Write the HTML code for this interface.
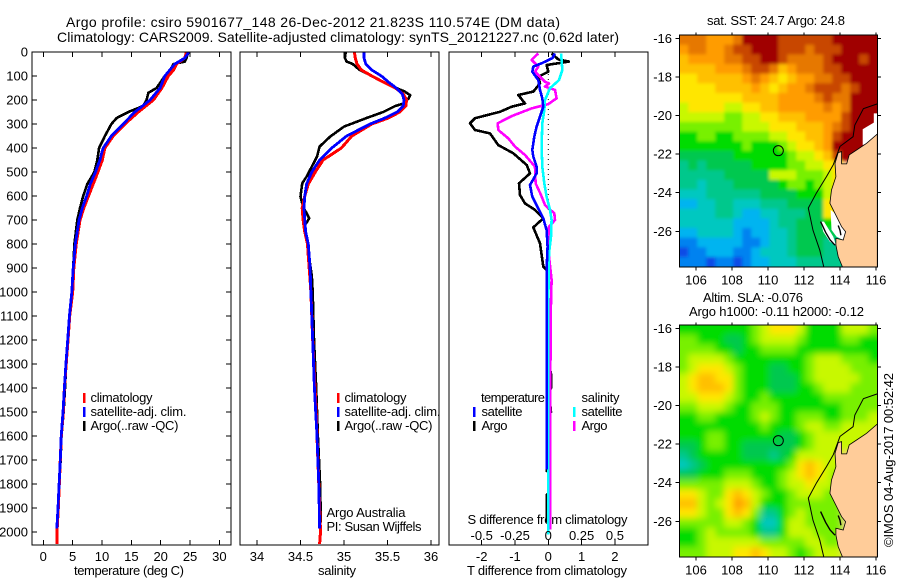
<!DOCTYPE html>
<html>
<head>
<meta charset="utf-8">
<title>Argo profile</title>
<style>
html,body{margin:0;padding:0;background:#fff;}
svg{display:block;}
text{font-family:"Liberation Sans",sans-serif;font-size:13px;fill:#000;}
text.big{font-size:14px;}
</style>
</head>
<body>
<svg id="chart" xmlns="http://www.w3.org/2000/svg" width="900" height="580" viewBox="0 0 900 580">
<rect x="0" y="0" width="900" height="580" fill="#fff"/>
<defs>
<clipPath id="clip-t"><rect x="32" y="52" width="199" height="493"/></clipPath>
<clipPath id="clip-s"><rect x="240" y="52" width="199" height="493"/></clipPath>
<clipPath id="clip-d"><rect x="449" y="52" width="199" height="493"/></clipPath>
<clipPath id="clip-m1"><rect x="679.5" y="35" width="198" height="232"/></clipPath>
<clipPath id="clip-m2"><rect x="679.5" y="325" width="198" height="232"/></clipPath>
<filter id="blur-sst" filterUnits="userSpaceOnUse" x="640" y="0" width="260" height="580"><feGaussianBlur stdDeviation="1.7"/></filter>
<filter id="blur-sla" filterUnits="userSpaceOnUse" x="640" y="0" width="260" height="580"><feGaussianBlur stdDeviation="3.4"/></filter>
</defs>

<text class="big" x="66" y="27" textLength="494" lengthAdjust="spacing">Argo profile: csiro 5901677_148 26-Dec-2012 21.823S 110.574E (DM data)</text>
<text class="big" x="57" y="42" textLength="562" lengthAdjust="spacing">Climatology: CARS2009. Satellite-adjusted climatology: synTS_20121227.nc (0.62d later)</text>

<text x="74" y="575" textLength="110" lengthAdjust="spacing">temperature (deg C)</text>
<text x="318" y="575" textLength="38" lengthAdjust="spacing">salinity</text>
<text x="467" y="575" textLength="160" lengthAdjust="spacing">T difference from climatology</text>
<text x="467.5" y="524" textLength="160" lengthAdjust="spacing">S difference from climatology</text>

<text x="326.5" y="517" textLength="79" lengthAdjust="spacing">Argo Australia</text>
<text x="326.5" y="531" textLength="95" lengthAdjust="spacing">PI: Susan Wijffels</text>

<g>
<rect x="83" y="393" width="2.5" height="10" fill="#f00"/>
<rect x="83" y="407" width="2.5" height="10" fill="#00f"/>
<rect x="83" y="421" width="2.5" height="10" fill="#000"/>
<text x="90.5" y="402" textLength="62" lengthAdjust="spacing">climatology</text>
<text x="90.5" y="416" textLength="96" lengthAdjust="spacing">satellite-adj. clim.</text>
<text x="90.5" y="430" textLength="88" lengthAdjust="spacing">Argo(..raw -QC)</text>
</g>
<g>
<rect x="337" y="393" width="2.5" height="10" fill="#f00"/>
<rect x="337" y="407" width="2.5" height="10" fill="#00f"/>
<rect x="337" y="421" width="2.5" height="10" fill="#000"/>
<text x="344.5" y="402" textLength="62" lengthAdjust="spacing">climatology</text>
<text x="344.5" y="416" textLength="96" lengthAdjust="spacing">satellite-adj. clim.</text>
<text x="344.5" y="430" textLength="88" lengthAdjust="spacing">Argo(..raw -QC)</text>
</g>
<g>
<text x="481" y="402" textLength="64" lengthAdjust="spacing">temperature</text>
<rect x="473" y="407" width="2.5" height="10" fill="#00f"/>
<rect x="473" y="421" width="2.5" height="10" fill="#000"/>
<text x="481.5" y="416" textLength="41" lengthAdjust="spacing">satellite</text>
<text x="481.5" y="430" textLength="26" lengthAdjust="spacing">Argo</text>
<text x="581.5" y="402" textLength="38" lengthAdjust="spacing">salinity</text>
<rect x="573" y="407" width="2.5" height="10" fill="#0ff"/>
<rect x="573" y="421" width="2.5" height="10" fill="#f0f"/>
<text x="581.5" y="416" textLength="41" lengthAdjust="spacing">satellite</text>
<text x="581.5" y="430" textLength="26" lengthAdjust="spacing">Argo</text>
</g>

<text x="707" y="25" textLength="138" lengthAdjust="spacing">sat. SST: 24.7 Argo: 24.8</text>
<text x="703" y="302" textLength="100" lengthAdjust="spacing">Altim. SLA: -0.076</text>
<text x="689" y="316" textLength="175" lengthAdjust="spacing">Argo h1000: -0.11 h2000: -0.12</text>
<text transform="translate(893,547) rotate(-90)" x="0" y="0" textLength="174" lengthAdjust="spacing">©IMOS 04-Aug-2017 00:52:42</text>
</svg>

<script>
// ---------- tick labels ----------
const depthTicks = [0,100,200,300,400,500,600,700,800,900,1000,1100,1200,1300,1400,1500,1600,1700,1800,1900,2000];
const tempTicks = [0,5,10,15,20,25,30];
const salTicks = [34,34.5,35,35.5,36];
const salTickLabels = ['34','34.5','35','35.5','36'];
const dTempTicks = [-2,-1,0,1,2];
const dTempLabels = ['-2','-1','0','1','2'];
const dSalTicks = [-0.5,-0.25,0,0.25,0.5];
const dSalLabels = ['-0.5','-0.25','0','0.25','0.5'];
const lonTicks = [106,108,110,112,114,116];
const latTicks = [-16,-18,-20,-22,-24,-26];

// ---------- temperature profiles ----------
const tempClimDepth = [0,25,50,75,100,150,200,250,300,350,400,450,500,550,600,650,700,800,900,1000,1100,1200,1300,1400,1500,1600,1700,1800,1900,2000,2050];
const tempClim = [24.4,24.1,22.7,22.2,21.3,20.2,18.75,16.2,13.9,11.9,10.5,10.05,9.3,8.5,7.7,6.9,6.25,5.6,5.2,5.0,4.5,4.2,3.9,3.6,3.4,3.07,2.9,2.73,2.55,2.33,2.35];
const tempSatDepth = [0,25,50,100,150,200,250,300,350,400,420,450,500,550,600,650,700,800,900,1000,1100,1200,1300,1400,1500,1600,1700,1800,1900,1985];
const tempSat = [24.8,24.1,22.4,20.7,19.9,18.2,15.6,13.6,11.6,10.2,9.95,9.65,8.9,8,7.4,6.65,6.1,5.45,5.1,4.85,4.45,4.15,3.85,3.6,3.35,3.05,2.9,2.7,2.5,2.3];
const tempArgoDepth = [0,25,40,50,75,100,150,170,200,225,250,275,300,350,400,450,500,550,600,650,700,800,900,1000,1100,1200,1300,1400,1500,1600,1700,1800,1900,1980];
const tempArgo = [24.7,24.4,24.1,22.2,21.6,20.7,19.3,17.9,17.6,17,14.5,12.5,11.6,10.5,9.5,9.2,8.7,7.5,6.8,6.25,5.8,5.3,5.1,4.85,4.5,4.2,3.9,3.7,3.45,3.1,2.95,2.75,2.5,2.3];

// ---------- salinity profiles ----------
const salClimDepth = [0,25,50,75,100,125,150,175,200,225,250,275,300,350,400,450,500,550,600,650,700,750,800,850,900,950,1000,1200,1400,1500,1600,1800,2000,2050];
const salClim = [35.12,35.13,35.15,35.2,35.32,35.45,35.59,35.68,35.72,35.71,35.64,35.51,35.32,35.09,34.97,34.76,34.67,34.59,34.55,34.52,34.53,34.55,34.58,34.59,34.6,34.61,34.62,34.64,34.667,34.68,34.69,34.71,34.73,34.72];
const salSatDepth = [0,25,50,75,100,125,150,175,200,225,250,275,300,350,400,450,500,550,600,650,700,750,800,850,900,950,1000,1200,1400,1500,1600,1800,1985];
const salSat = [35.23,35.23,35.25,35.32,35.43,35.51,35.6,35.67,35.69,35.68,35.61,35.47,35.3,35.03,34.86,34.72,34.63,34.57,34.55,34.54,34.55,34.56,34.59,34.6,34.61,34.615,34.62,34.64,34.66,34.675,34.69,34.71,34.72];
const salArgoDepth = [0,25,40,50,75,100,125,150,165,180,195,215,225,250,275,311,353,394,436,478,519,547,603,644,672,693,728,783,933,1000,1200,1400,1600,1800,1960];
const salArgo = [35.02,35.01,35.03,35.1,35.18,35.32,35.45,35.6,35.7,35.76,35.74,35.68,35.59,35.45,35.26,35,34.84,34.72,34.69,34.63,34.57,34.52,34.5,34.53,34.57,34.6,34.54,34.57,34.63,34.64,34.655,34.68,34.7,34.725,34.735];

// ---------- difference profiles ----------
const dTempSatDepth = [6,26,47,61,82,117,158,193,228,269,311,353,408,436,478,506,554,603,638,693,742,811,908,1033,1740];
const dTempSat = [0.2,0.12,-0.2,-0.45,-0.48,-0.3,-0.25,-0.18,-0.15,-0.25,-0.35,-0.42,-0.48,-0.45,-0.35,-0.35,-0.55,-0.48,-0.35,-0.15,-0.05,-0.02,-0.05,-0.05,-0.05];
const dTempArgoDepth = [6,31,40,54,82,103,131,165,179,214,228,249,276,297,325,339,388,422,471,506,547,596,631,658,693,731,797,894,908,1033,1320,1340,1400,1420,1500,1520,1745,1750,1840,1845,1960];
const dTempArgo = [0.1,0.3,0.62,-0.05,0,-0.3,-0.25,-0.45,-0.9,-0.7,-1.1,-1.45,-2.2,-2.35,-2.2,-1.75,-1.5,-1.05,-0.65,-0.55,-0.88,-0.85,-0.7,-0.4,-0.15,-0.45,-0.25,-0.15,-0.05,-0.05,0.05,0.08,0.08,0.02,0.08,-0.05,-0.05,0,0,-0.05,-0.05];
const dSalSatDepth = [6,33,75,117,151,200,242,297,394,478,547,603,658,700,769,839,1033,2010];
const dSalSat = [0.095,0.1,0.105,0.08,0.0125,-0.025,-0.03,-0.045,-0.05,-0.045,-0.03,-0.0125,0.0125,0.025,0.02,0.005,0,0];
const dSalArgoDepth = [6,33,61,82,103,124,131,144,158,193,217,235,267,297,325,360,394,429,478,547,596,638,672,700,728,825,950,1033,1500,1990];
const dSalArgo = [-0.075,-0.125,-0.075,-0.1,-0.0625,-0.025,0.005,-0.025,0.05,0.0625,0,-0.125,-0.275,-0.38,-0.375,-0.3,-0.25,-0.175,-0.1,-0.095,-0.055,-0.025,0.045,0.05,0.005,0,0.025,0.02,0.0125,0.0125];

// ---------- map data (colour-class per half-degree cell, top row first) ----------
const sstGrid = [
[12,12,12,11,11,11,12,14,14,14,14,13,13,13,13,13,13,14,14,14,14,14],
[11,12,12,11,11,12,13,13,14,14,14,13,13,13,12,13,13,13,14,14,14,14],
[10,11,11,11,11,12,12,13,13,14,14,13,12,12,12,12,13,14,14,14,13,14],
[10,10,10,10,11,11,11,12,13,13,12,10,11,12,12,12,13,13,14,14,14,14],
[9,9,10,10,10,10,10,11,12,11,10,9,10,11,11,12,12,13,13,14,14,14],
[9,9,9,9,10,10,10,10,11,10,9,10,11,11,12,13,13,13,12,13,14,14],
[9,9,9,9,9,9,9,10,10,10,10,11,11,11,11,12,13,12,12,14,14,14],
[8,9,9,9,9,8,8,9,9,10,10,11,11,11,11,11,12,11,12,14,14,14],
[8,8,8,8,8,7,7,8,8,9,9,10,10,10,11,11,11,11,13,14,14,14],
[7,7,7,7,7,7,7,8,8,8,9,9,9,10,10,10,11,12,13,14,14,14],
[6,6,7,7,6,6,7,7,7,7,8,8,9,9,10,10,11,13,14,14,14,14],
[6,6,6,6,6,6,6,7,6,6,6,7,8,9,9,10,11,14,14,14,14,14],
[5,5,5,5,5,5,6,6,6,6,6,6,7,8,8,9,10,13,14,14,14,14],
[4,5,4,5,5,5,5,5,6,6,6,6,7,7,8,8,9,9],
[4,4,4,4,4,5,5,5,5,5,8,8,8,7,7,7,8,9],
[4,4,3,4,4,4,5,5,5,5,5,6,7,7,6,7,8,9],
[3,3,3,4,4,4,4,4,4,5,5,5,5,6,6,6,8,8],
[2,2,3,3,4,4,3,3,3,4,4,4,5,5,5,5,9,9],
[3,3,3,3,4,4,3,2,2,3,3,4,4,4,5,5,9,9],
[3,3,3,3,3,3,2,2,2,2,3,4,4,5,5,5,6,6],
[2,2,3,3,3,3,2,1,2,2,3,3,4,5,5,5,5,5],
[1,1,2,2,2,2,2,1,1,2,3,3,4,5,5,5,4,4],
[0,1,1,2,2,2,1,1,2,3,3,3,4,5,5,5,4,4],
[1,1,1,0,1,1,0,1,2,2,3,3,3,4,4,4,4,4,4]
];
const slaGrid = [
[6,6,6,6,6,6,6,6,7,8,9,9,9,8,6,6,6,6,8,8,8,7],
[7,7,6,6,6,5,5,6,7,8,8,8,8,7,6,6,6,6,7,7,6,6],
[7,7,7,7,6,6,5,6,6,7,7,7,7,6,6,6,6,6,6,6,6,6],
[7,8,8,8,8,7,6,6,6,6,6,6,6,6,7,8,8,8,7,7,7,6],
[7,8,9,9,9,8,7,6,6,6,5,5,6,6,7,8,8,8,8,7,7,7],
[8,9,10,10,9,9,7,6,6,6,5,5,5,6,7,8,8,8,8,8,7,7],
[8,9,10,10,10,9,7,6,6,6,5,5,5,6,6,7,8,8,8,7,7,7],
[8,8,9,9,9,8,7,6,6,7,6,6,6,6,6,6,7,7,7,7,7,7],
[7,7,8,8,8,7,6,6,7,7,7,6,6,6,6,6,6,6,7,7,7,7],
[6,6,7,7,6,6,6,6,7,8,7,6,6,7,7,7,6,6,7,7,7,8],
[6,6,6,6,6,6,6,6,6,7,6,6,6,7,8,8,7,7,8,8,8,8],
[6,6,6,7,7,6,6,6,6,6,6,5,5,6,7,8,8,8,8,8,8,8],
[5,5,6,7,7,6,6,5,5,5,5,5,5,6,7,8,8,8,8,8,8,8],
[4,5,6,6,6,6,6,5,5,5,4,5,6,8,8,8,8,8],
[3,4,5,6,6,6,6,6,6,6,6,6,7,9,10,9,8,8],
[5,5,6,6,6,7,7,7,6,6,6,7,8,9,10,9,8,7],
[7,7,7,7,7,8,8,8,7,6,6,7,8,8,9,8,8,7],
[9,9,8,7,7,9,10,9,8,7,6,6,7,8,8,8,7,7],
[10,10,8,7,8,9,11,10,8,6,6,6,7,7,7,7,7,7],
[9,9,8,7,7,9,10,9,7,4,4,6,7,8,7,7,7,7],
[7,7,7,7,7,8,8,7,6,3,3,6,8,8,7,7,7,7],
[6,6,7,8,7,7,7,7,6,4,4,6,8,8,8,7,7,7],
[6,6,7,8,8,8,8,8,8,7,7,7,7,7,8,8,7,7],
[7,7,7,8,8,8,9,9,10,9,8,8,7,6,7,8,8,8]
];
const colourClasses = ['#0a4be6','#0082f0','#00b4f0','#00c8c0','#00c88c','#00c850','#00dc00','#78f000','#c8f800','#ffe600','#ffc000','#ff9c00','#e67800','#c84600','#a00000'];

// ---------- coastline, isobath and no-data regions (lon, lat) ----------
const landLon = [116.07,115.48,114.92,114.51,114.37,114.09,114.09,113.9,113.72,113.77,113.53,113.44,113.72,114.09,114.31,114.18,113.77,113.77,113.9,114.14,116.07];
const landLat = [-20.96,-21.44,-21.79,-22.04,-22.51,-22.51,-21.87,-21.92,-22.48,-23.17,-23.86,-24.55,-25.07,-25.76,-26.02,-26.45,-26.36,-26.71,-27.31,-27.85,-27.85];
const isoLon = [116.07,115.3,114.82,114.73,114,113.63,113.26,112.7,112.24,112.5,112.88,113.1];
const isoLat = [-19.4,-19.65,-20.5,-21.1,-21.6,-22.55,-23.15,-24,-24.8,-25.95,-26.98,-27.85];
const whiteNELon = [115.88,116.07,116.07,115.48,115.26,115.26,115.88];
const whiteNELat = [-19.89,-19.89,-20.96,-21.47,-21.53,-20.71,-20.37];
const whiteBayLon = [113.48,113.72,114.09,114.31,114.18,113.81,113.53];
const whiteBayLat = [-24.89,-25.07,-25.76,-26.02,-26.45,-26.28,-25.93];
const whitePenLon = [112.92,113.11,113.63,113.77,113.44,113.07];
const whitePenLat = [-25.5,-25.5,-26.28,-26.71,-26.54,-26.02];
const sharkLon = [112.92,113.2,113.45,113.72];
const sharkLat = [-25.5,-26.05,-26.45,-26.72];
const shark2Lon = [113.9,114.0,114.05];
const shark2Lat = [-25.7,-25.95,-26.2];
const floatLon = [110.574];
const floatLat = [-21.823];

// ---------- axis functions ----------
const NS = 'http://www.w3.org/2000/svg';
const svg = document.getElementById('chart');
function yDepth(d){ return 52 + d * 0.24; }
function xTemp(t){ return 43.3 + t * 5.87; }
function xSal(s){ return 257 + (s - 34) * 87; }
function xDT(v){ return 548.3 + v * 33.3; }
function xDS(v){ return 548.3 + v * 133.2; }
function xLon(l){ return 696 + (l - 106) * 18; }
function yLat(lat, top){ return top + (-16 - lat) * 19.3; }

function make(tag, attrs, parent){
  const e = document.createElementNS(NS, tag);
  for (const k in attrs) e.setAttribute(k, attrs[k]);
  (parent || svg).appendChild(e);
  return e;
}
function label(str, x, y, anchor, parent){
  const t = make('text', {x: x, y: y, 'text-anchor': anchor}, parent);
  t.textContent = str;
  return t;
}
function tick(x1, y1, x2, y2, parent){
  return make('line', {x1: x1, y1: y1, x2: x2, y2: y2, stroke: '#000', 'stroke-width': 1, 'shape-rendering': 'crispEdges'}, parent);
}

// ---------- profile panels ----------
function drawBox(x, y, w, h, name){
  const r = make('rect', {x: x, y: y, width: w, height: h, fill: 'none', stroke: '#000', 'stroke-width': 1.3, 'shape-rendering': 'crispEdges'});
  
  
}
function drawLine(depths, vals, xf, colour, width, clip, name){
  const pts = depths.map(function(d, i){ return xf(vals[i]).toFixed(1) + ',' + yDepth(d).toFixed(1); }).join(' ');
  const p = make('polyline', {points: pts, fill: 'none', stroke: colour, 'stroke-width': width, 'stroke-linejoin': 'round', 'shape-rendering': 'crispEdges', 'clip-path': 'url(#' + clip + ')'});
  
  
}

drawLine(tempArgoDepth, tempArgo, xTemp, '#000', 2.6, 'clip-t', 'temperature-argo-line');
drawLine(tempClimDepth, tempClim, xTemp, '#f00', 3, 'clip-t', 'temperature-climatology-line');
drawLine(tempSatDepth, tempSat, xTemp, '#00f', 2.8, 'clip-t', 'temperature-satellite-line');

drawLine(salArgoDepth, salArgo, xSal, '#000', 2.6, 'clip-s', 'salinity-argo-line');
drawLine(salClimDepth, salClim, xSal, '#f00', 3, 'clip-s', 'salinity-climatology-line');
drawLine(salSatDepth, salSat, xSal, '#00f', 2.8, 'clip-s', 'salinity-satellite-line');

const zeroLine = make('line', {x1: xDT(0), y1: yDepth(50), x2: xDT(0), y2: yDepth(670), stroke: '#000', 'stroke-width': 1, 'stroke-dasharray': '1 4'});


drawLine(dTempArgoDepth, dTempArgo, xDT, '#000', 2.6, 'clip-d', 't-difference-argo-line');
drawLine(dSalArgoDepth, dSalArgo, xDS, '#f0f', 2.6, 'clip-d', 's-difference-argo-line');
drawLine(dSalSatDepth, dSalSat, xDS, '#0ff', 2.6, 'clip-d', 's-difference-satellite-line');
drawLine(dTempSatDepth, dTempSat, xDT, '#00f', 2.6, 'clip-d', 't-difference-satellite-line');

drawBox(32, 52, 199, 493, 'temperature-plot-frame');
drawBox(240, 52, 199, 493, 'salinity-plot-frame');
drawBox(449, 52, 199, 493, 'difference-plot-frame');

// depth axis
const depthAxis = make('g', {});


depthTicks.forEach(function(d){
  tick(32, yDepth(d), 37, yDepth(d), depthAxis);
  tick(226, yDepth(d), 231, yDepth(d), depthAxis);
  label(String(d), 28, yDepth(d) + 4.5, 'end', depthAxis);
});

// temperature axis
const tempAxis = make('g', {});


tempTicks.forEach(function(t){
  tick(xTemp(t), 52, xTemp(t), 57, tempAxis);
  tick(xTemp(t), 540, xTemp(t), 545, tempAxis);
  label(String(t), xTemp(t), 561, 'middle', tempAxis);
});

// salinity axis
const salAxis = make('g', {});


salTicks.forEach(function(s, i){
  tick(xSal(s), 52, xSal(s), 57, salAxis);
  tick(xSal(s), 540, xSal(s), 545, salAxis);
  label(salTickLabels[i], xSal(s), 561, 'middle', salAxis);
});

// difference axes
const diffAxis = make('g', {});


dTempTicks.forEach(function(v, i){
  tick(xDT(v), 52, xDT(v), 57, diffAxis);
  tick(xDT(v), 540, xDT(v), 545, diffAxis);
  label(dTempLabels[i], xDT(v), 561, 'middle', diffAxis);
});
const diffSAxis = make('g', {});


dSalTicks.forEach(function(v, i){
  label(dSalLabels[i], xDS(v), 540, 'middle', diffSAxis);
});

// ---------- maps ----------
function poly(lons, lats, top, attrs, parent, tag){
  const pts = lons.map(function(l, i){ return xLon(l).toFixed(1) + ',' + yLat(lats[i], top).toFixed(1); }).join(' ');
  attrs.points = pts;
  return make(tag || 'polygon', attrs, parent);
}

function drawMap(top, grid, blurId, clipId, prefix, showWhite){
  const bg = make('rect', {x: 679.5, y: top - 3.3, width: 198, height: 232, fill: '#ffcc99'});
  
  

  const clipGroup = make('g', {'clip-path': 'url(#' + clipId + ')'});
  
  

  const cellGroup = make('g', {filter: 'url(#' + blurId + ')'}, clipGroup);
  
  

  const cellW = xLon(105.57) - xLon(105.07);
  const cellH = yLat(-16.33, top) - yLat(-15.83, top);
  grid.forEach(function(row, j){
    row.forEach(function(v, i){
      let x = xLon(105.07 + i * 0.5);
      let y = yLat(-15.83 - j * 0.5, top);
      let w = cellW + 0.4;
      let h = cellH + 0.4;
      if (i === 0) { x -= 12; w += 12; }
      if (j === 0) { y -= 12; h += 12; }
      if (j === grid.length - 1) { h += 12; }
      if (i === 21) { w += 12; }
      const c = make('rect', {x: x, y: y, width: w, height: h, fill: colourClasses[v]}, cellGroup);
      
      
    });
  });

  if (showWhite) {
    const w1 = poly(whiteNELon, whiteNELat, top, {fill: '#fff'}, clipGroup);
    
    
    const w2 = poly(whiteBayLon, whiteBayLat, top, {fill: '#fff'}, clipGroup);
    
    
    const w3 = poly(whitePenLon, whitePenLat, top, {fill: '#fff'}, clipGroup);
    
    
  }

  const land = poly(landLon, landLat, top, {fill: '#ffcc99', stroke: '#000', 'stroke-width': 0.8}, clipGroup);
  
  

  const iso = poly(isoLon, isoLat, top, {fill: 'none', stroke: '#000', 'stroke-width': 1}, clipGroup, 'polyline');
  
  

  const sh1 = poly(sharkLon, sharkLat, top, {fill: 'none', stroke: '#000', 'stroke-width': 1.4}, clipGroup, 'polyline');
  
  
  const sh2 = poly(shark2Lon, shark2Lat, top, {fill: 'none', stroke: '#000', 'stroke-width': 1.4}, clipGroup, 'polyline');
  
  

  const marker = make('circle', {cx: xLon(floatLon[0]), cy: yLat(floatLat[0], top), r: 5, fill: 'none', stroke: '#000', 'stroke-width': 1}, clipGroup);
  
  

  const frame = make('rect', {x: 679.5, y: top - 3.3, width: 198, height: 232, fill: 'none', stroke: '#000', 'stroke-width': 1, 'shape-rendering': 'crispEdges'});
  
  

  const axis = make('g', {});
  
  
  lonTicks.forEach(function(l){
    tick(xLon(l), top - 5.8, xLon(l), top - 3.3, axis);
    tick(xLon(l), top + 228.7, xLon(l), top + 232, axis);
    label(String(l), xLon(l), top + 246, 'middle', axis);
  });
  latTicks.forEach(function(lat){
    tick(675.5, yLat(lat, top), 679.5, yLat(lat, top), axis);
    tick(877.5, yLat(lat, top), 881, yLat(lat, top), axis);
    label(String(lat), 672, yLat(lat, top) + 4.5, 'end', axis);
  });
}

drawMap(38.3, sstGrid, 'blur-sst', 'clip-m1', 'sst', true);
drawMap(328.3, slaGrid, 'blur-sla', 'clip-m2', 'sla', false);
</script>
</body>
</html>
